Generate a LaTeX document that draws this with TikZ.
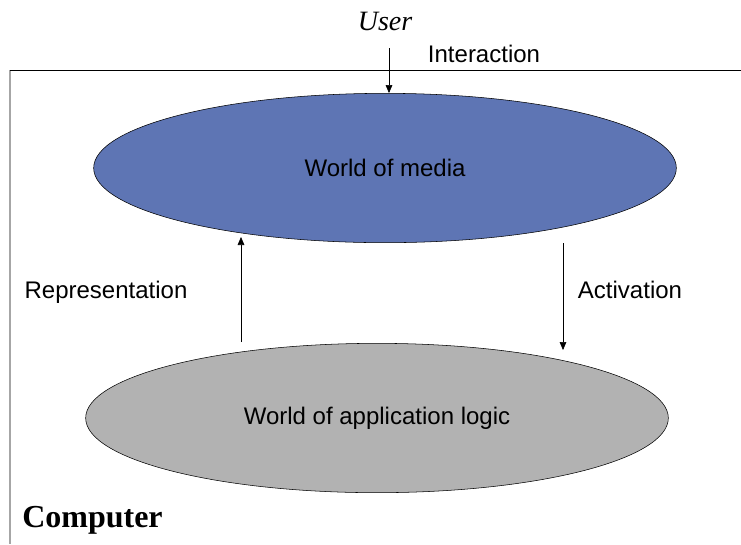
\documentclass[tikz,border=0pt]{standalone}
\usepackage{fontspec}
\setmainfont{Liberation Serif}
\setsansfont{Liberation Sans}
\usetikzlibrary{shapes.geometric,arrows.meta}
\definecolor{mediablue}{RGB}{94,117,180}
\definecolor{logicgray}{RGB}{178,178,178}

\begin{document}
\begin{tikzpicture}[x=0.75pt, y=-0.75pt,
	world/.style={ellipse, draw, thin, inner sep=0pt, minimum width=437pt, minimum height=112pt,
		font=\sffamily\fontsize{18}{20}\selectfont},
	lbl/.style={font=\sffamily\fontsize{18}{20}\selectfont, anchor=base, inner sep=0pt},
	flow/.style={thin, -{Triangle[length=6pt,width=5pt]}}]
	\useasboundingbox (0,0) rectangle (741,544);
	% computer frame, open to the right and below
	\draw[gray!70, line width=1.5pt] (10,70) -- (10,544);
	\draw (10,70) -- (741,70);
	\node[world, fill=mediablue] (media) at (385,168) {World of media};
	\node[world, fill=logicgray] (logic) at (377,418) {World of application logic};
	\node[anchor=base, inner sep=0pt, font=\itshape\fontsize{21}{24}\selectfont] (user) at (385,30) {User};
	\node[lbl] (interaction) at (484,62) {Interaction};
	\node[lbl] (representation) at (106,298) {Representation};
	\node[lbl] (activation) at (630,298) {Activation};
	\node[anchor=base west, inner sep=0pt, font=\bfseries\fontsize{24}{28}\selectfont] (computer) at (22,527) {Computer};
	\coordinate (in) at (389,48);
	\coordinate (rep-from) at (241,342); \coordinate (rep-to) at (241,237);
	\coordinate (act-from) at (563,243); \coordinate (act-to) at (563,350);
	\draw[flow] (in) -- (in |- media.north);
	\draw[flow] (rep-from) -- (rep-to);
	\draw[flow] (act-from) -- (act-to);
\end{tikzpicture}
\end{document}
